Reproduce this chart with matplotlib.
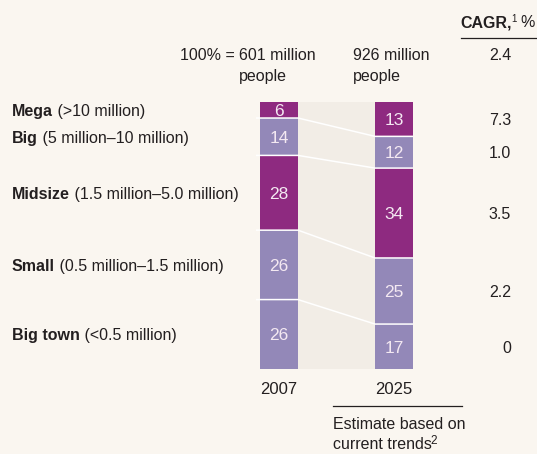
import numpy as np
import matplotlib
matplotlib.use('Agg')
import matplotlib.pyplot as plt
from matplotlib.transforms import blended_transform_factory

plt.rcParams['font.family'] = ['Liberation Sans', 'DejaVu Sans']
plt.rcParams['font.size'] = 11.5

# data
seg_names = ['Mega', 'Big', 'Midsize', 'Small', 'Big town']
seg_ranges = ['(>10 million)', '(5 million\u201310 million)', '(1.5 million\u20135.0 million)',
              '(0.5 million\u20131.5 million)', '(<0.5 million)']
share_2007 = [6, 14, 28, 26, 26]
share_2025 = [13, 12, 34, 25, 17]
cagr = ['7.3', '1.0', '3.5', '2.2', '0']
cagr_total = '2.4'
years = ['2007', '2025']
totals = ['601 million', '926 million']

bg = '#faf6f0'
mid = '#f2ede6'
dark = '#8e2a80'
light = '#9388b8'
txt = '#231f20'
bar_txt = '#f4e9f2'
cols = [dark, light, dark, light, light]

fig = plt.figure(figsize=(5.37, 4.54), dpi=100, facecolor=bg)

# overlay in pixel units for free text
ov = fig.add_axes([0, 0, 1, 1])
ov.set_xlim(0, 537)
ov.set_ylim(454, 0)
ov.axis('off')

ax = fig.add_axes([221.5 / 537, 85 / 454, 230 / 537, 267 / 454])
ax.set_facecolor('none')
ax.set_xlim(-0.5, 1.5)
ax.set_ylim(100, 0)
for s in ax.spines.values():
    s.set_visible(False)
ax.set_yticks([])
ax.set_xticks([0, 1], years)
ax.tick_params(axis='x', length=0, pad=9, labelsize=12, labelcolor=txt)

w = 0.33
ax.axvspan(w / 2, 1 - w / 2, color=mid, lw=0, zorder=0)

centers = []
edges = []
for i, vals in enumerate([share_2007, share_2025]):
    v = np.array(vals, float)
    v = v / v.sum() * 100
    bottoms = np.concatenate([[0], np.cumsum(v)[:-1]])
    ax.bar(i, v, width=w, bottom=bottoms, color=cols, zorder=2)
    for val, b, h in zip(vals, bottoms, v):
        ax.text(i, b + h / 2, str(val), ha='center', va='center_baseline',
                color=bar_txt, fontsize=12.5, zorder=4)
    centers.append(bottoms + v / 2)
    edges.append(np.cumsum(v)[:-1])

# white connector lines between segment boundaries
for a, b in zip(edges[0], edges[1]):
    ax.plot([-w / 2 - 0.035, w / 2, 1 - w / 2, 1 + w / 2], [a, a, b, b],
            color='white', lw=1.1, zorder=3, clip_on=False, solid_capstyle='butt')

tr = blended_transform_factory(ov.transData, ax.transData)

# category labels
for name, rng, c in zip(seg_names, seg_ranges, centers[0]):
    tb = ov.text(12, c, name, fontweight='bold', color=txt, transform=tr,
                 va='center_baseline', ha='left')
    ov.annotate(' ' + rng, xy=(1, 0), xycoords=tb, va='bottom', ha='left', color=txt)

# CAGR column
for val, c in zip(cagr, centers[1]):
    ov.text(511, c, val, ha='right', va='center_baseline', color=txt, transform=tr)
ov.text(511, 54, cagr_total, ha='right', va='center_baseline', color=txt)

t1 = ov.text(460, 21, 'CAGR,', fontweight='bold', color=txt, va='center_baseline')
sup = ov.annotate('1', xy=(1, 1), xycoords=t1, xytext=(0, 0.5),
                  textcoords='offset points', fontsize=7, va='top', color=txt)
ov.annotate('%', xy=(1, 0), xycoords=(sup, t1), xytext=(2.5, 0),
            textcoords='offset points', va='bottom', color=txt)
ov.plot([461, 537], [38, 38], color=txt, lw=0.9)

# totals header
ov.text(235, 54, '100% =', ha='right', va='center_baseline', color=txt)
ov.text(239, 54, totals[0], ha='left', va='center_baseline', color=txt)
ov.text(239, 75, 'people', ha='left', va='center_baseline', color=txt)
ov.text(353, 54, totals[1], ha='left', va='center_baseline', color=txt)
ov.text(353, 75, 'people', ha='left', va='center_baseline', color=txt)

# footnote under 2025
ov.plot([333, 462], [406, 406], color=txt, lw=0.9)
ov.text(333, 423, 'Estimate based on', ha='left', va='center_baseline', color=txt)
t2 = ov.text(333, 443, 'current trends', ha='left', va='center_baseline', color=txt)
ov.annotate('2', xy=(1, 1), xycoords=t2, xytext=(-1, 1.5),
            textcoords='offset points', fontsize=8.5, va='top', color=txt)

fig.savefig('out.png', dpi=100, facecolor=bg)
